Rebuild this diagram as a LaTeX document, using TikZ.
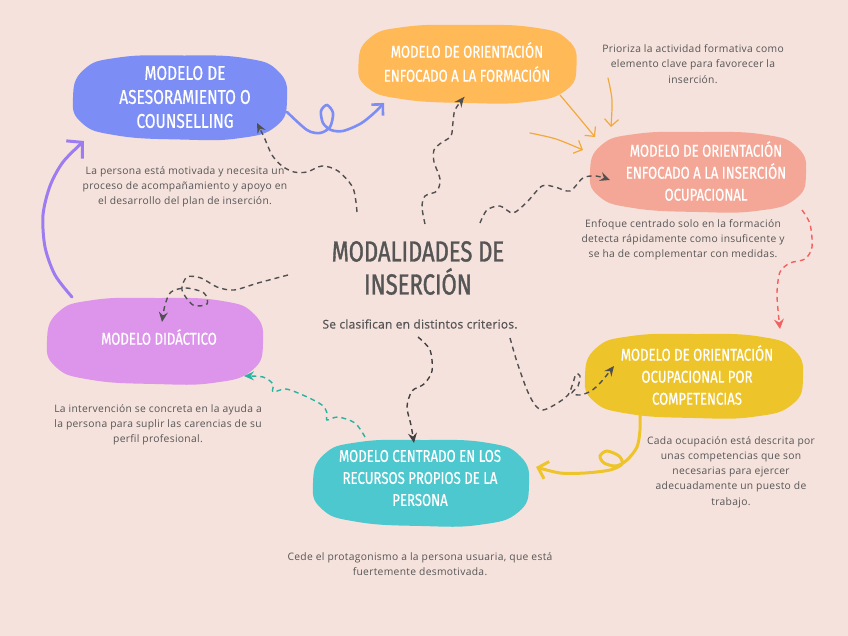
\documentclass[tikz,border=0pt]{standalone}
\usepackage{fontspec}
\setmainfont{Open Sans}
\newfontfamily\descfont[LetterSpace=3]{Open Sans}
\newfontfamily\hand[FakeStretch=0.775,FakeBold=0.6]{Fira Sans}
\newfontfamily\handtitle[FakeStretch=0.76,FakeBold=1.2]{Fira Sans}
\newfontfamily\subfont[FakeBold=0.6,LetterSpace=2]{Open Sans}
\usetikzlibrary{arrows.meta}
\definecolor{bg}{RGB}{246,226,220}
\definecolor{cblue}{RGB}{124,142,246}
\definecolor{corange}{RGB}{255,186,87}
\definecolor{csalmon}{RGB}{244,167,151}
\definecolor{cyellow}{RGB}{238,196,43}
\definecolor{cteal}{RGB}{77,200,207}
\definecolor{cpurple}{RGB}{220,149,234}
\definecolor{cviolet}{RGB}{156,124,240}
\definecolor{carrowor}{RGB}{242,169,59}
\definecolor{cred}{RGB}{242,96,96}
\definecolor{cgreen}{RGB}{40,178,160}
\definecolor{dgray}{RGB}{80,80,80}
\definecolor{tgray}{RGB}{85,85,85}
\newcommand\blobshape[5]{%
  \fill[#5] plot[smooth cycle, tension=0.8] coordinates {
    ({#1+#3},{#2+0.05*#4}) ({#1+0.9*#3},{#2+0.68*#4}) ({#1+0.55*#3},{#2+0.97*#4})
    ({#1},{#2+#4}) ({#1-0.6*#3},{#2+0.9*#4}) ({#1-0.92*#3},{#2+0.6*#4})
    ({#1-#3},{#2}) ({#1-0.9*#3},{#2-0.66*#4}) ({#1-0.58*#3},{#2-0.95*#4})
    ({#1},{#2-#4}) ({#1+0.6*#3},{#2-0.94*#4}) ({#1+0.92*#3},{#2-0.62*#4})};}
\begin{document}
\begin{tikzpicture}[x=1pt,y=-1pt,
  mtext/.style={text=white,align=center,inner sep=0pt,font=\hand\fontsize{17}{22}\selectfont},
  desc/.style={text=tgray,align=center,inner sep=0pt,font=\descfont\fontsize{10.3}{15.2}\selectfont},
  gdash/.style={draw=dgray,line width=1.4pt,dash pattern=on 5pt off 4pt,-{Stealth[length=10pt,width=9pt,inset=3.5pt]}},
  solidarrow/.style={line width=2.6pt,line cap=round,-{Straight Barb[length=8pt,width=16pt,line width=2.6pt]}},
  orarrow/.style={draw=carrowor,line width=1.2pt,line cap=round,-{Straight Barb[length=7pt,width=14pt,line width=1.2pt]}}]
\useasboundingbox (0,0) rectangle (848,636);
\fill[bg] (0,0) rectangle (848,636);
% blobs
\blobshape{180}{97.5}{107}{42}{cblue}
\blobshape{467.5}{64}{109}{39}{corange}
\blobshape{698}{172}{108}{40}{csalmon}
\blobshape{694}{376}{109}{42}{cyellow}
\blobshape{421}{483}{108}{43}{cteal}
\blobshape{155}{341}{108}{43}{cpurple}
% node texts
\node[mtext,font=\hand\fontsize{20}{24}\selectfont] (blue) at (185,97) {MODELO DE\\ASESORAMIENTO O\\COUNSELLING};
\node[mtext,font=\hand\fontsize{17}{24}\selectfont] (orange) at (467,62) {MODELO DE ORIENTACIÓN\\ENFOCADO A LA FORMACIÓN};
\node[mtext] (salmon) at (706,171) {MODELO DE ORIENTACIÓN\\ENFOCADO A LA INSERCIÓN\\OCUPACIONAL};
\node[mtext] (yellow) at (697,375) {MODELO DE ORIENTACIÓN\\OCUPACIONAL POR\\COMPETENCIAS};
\node[mtext] (teal) at (420,478) {MODELO CENTRADO EN LOS\\RECURSOS PROPIOS DE LA\\PERSONA};
\node[mtext] (purple) at (159,337) {MODELO DIDÁCTICO};
\node[text=tgray,align=center,inner sep=0pt,font=\handtitle\fontsize{29}{33}\selectfont] (title) at (418,268) {MODALIDADES DE\\INSERCIÓN};
\node[text=tgray,inner sep=0pt,font=\subfont\fontsize{12}{14}\selectfont] (sub) at (420,324) {Se clasifican en distintos criterios.};
% descriptions
\node[desc] (dblue) at (185,187) {La persona está motivada y necesita un\\proceso de acompañamiento y apoyo en\\el desarrollo del plan de inserción.};
\node[desc] (dorange) at (693,64) {Prioriza la actividad formativa como\\elemento clave para favorecer la\\inserción.};
\node[desc] (dsalmon) at (683,240) {Enfoque centrado solo en la formación\\detecta rápidamente como insuficente y\\se ha de complementar con medidas.};
\node[desc] (dpurple) at (158,425) {La intervención se concreta en la ayuda a\\la persona para suplir las carencias de su\\perfil profesional.};
\node[desc] (dyellow) at (731,472) {Cada ocupación está descrita por\\unas competencias que son\\necesarias para ejercer\\adecuadamente un puesto de\\trabajo.};
\node[desc] (dteal) at (420,564) {Cede el protagonismo a la persona usuaria, que está\\fuertemente desmotivada.};
% connector end points
\coordinate (a0) at (357,212); \coordinate (a1) at (257,123);
\coordinate (c0) at (425,224); \coordinate (c1) at (464,97);
\coordinate (d0) at (480,223); \coordinate (d1) at (610,180);
\coordinate (f0) at (802,210); \coordinate (f1) at (780,329);
\coordinate (g0) at (510,338); \coordinate (g1) at (614,366);
\coordinate (i0) at (418,337); \coordinate (i1) at (414,443);
\coordinate (j0) at (365,437); \coordinate (j1) at (244,376);
\coordinate (k0) at (288,275); \coordinate (k1) at (162,322);
\coordinate (l0) at (72,297);  \coordinate (l1) at (84,141);
\coordinate (b0) at (287,112); \coordinate (b1) at (384,103);
\coordinate (h0) at (640,415); \coordinate (h1) at (536,467);
\coordinate (e1a) at (608,78);  \coordinate (e1b) at (611,127);
\coordinate (e2a) at (560,95);  \coordinate (e2b) at (595,137);
\coordinate (e3a) at (530,133); \coordinate (e3b) at (583,150);
% gray dashed connectors
\draw[gdash] plot[smooth] coordinates {(a0) (353,188) (338,171) (322,166) (307,172) (294,172) (282,166) (272,155) (264,137) (a1)};
\draw[gdash] plot[smooth] coordinates {(c0) (422,207) (425,196) (437,191) (440,179) (434,162) (434,150) (441,143) (451,136) (453,122) (455,110) (c1)};
\draw[gdash] plot[smooth] coordinates {(d0) (487,210) (500,206) (513,213) (527,202) (542,186) (555,187) (570,191) (583,178) (596,176) (d1)};
\draw[gdash] plot[smooth] coordinates {(g0) (517,362) (527,390) (535,405) (543,410) (556,404) (568,395) (573,383) (576,374) (580,376) (578,386) (572,393) (580,395) (591,391) (601,382) (g1)};
\draw[gdash,draw=black!75] plot[smooth] coordinates {(i0) (430,350) (432,371) (424,384) (412,391) (407,407) (411,425) (i1)};
\draw[gdash] plot[smooth] coordinates {(k0) (258,283) (234,290) (217,287) (201,278) (187,277) (182,290) (193,305) (207,304) (204,293) (186,288) (171,292) (165,305) (k1)};
% red dashed
\draw[gdash,draw=cred,-{Stealth[length=10pt,width=10pt,inset=3.5pt]}] plot[smooth] coordinates {(f0) (810,224) (812,247) (805,259) (790,263) (780,272) (777,292) (778,310) (f1)};
% teal dashed
\draw[gdash,draw=cgreen] plot[smooth] coordinates {(j0) (355,423) (338,417) (327,420) (327,413) (322,405) (305,396) (286,389) (273,392) (273,384) (263,377) (j1)};
% solid arrows
\draw[solidarrow,draw=cblue] plot[smooth] coordinates {(b0) (307,130) (320,133) (330,127) (333,113) (327,105) (321,111) (323,123) (331,130) (343,131) (360,124) (373,114) (b1)};
\draw[solidarrow,draw=cviolet,line width=3pt,-{Straight Barb[length=11pt,width=24pt,line width=3pt]}] plot[smooth] coordinates {(l0) (55,275) (45,247) (43,215) (50,186) (63,162) (l1)};
\draw[solidarrow,draw=cyellow,line width=3pt,-{Straight Barb[length=9pt,width=18pt,line width=3pt]}] plot[smooth] coordinates {(h0) (640,430) (637,447) (627,460) (616,466) (604,463) (600,456) (607,451) (619,456) (622,464) (610,470) (585,473) (560,473) (h1)};
% orange arrows
\draw[orarrow] plot[smooth] coordinates {(e1a) (612,100) (e1b)};
\draw[orarrow] plot[smooth] coordinates {(e2a) (576,114) (e2b)};
\draw[orarrow] plot[smooth] coordinates {(e3a) (556,139) (e3b)};
\end{tikzpicture}
\end{document}
